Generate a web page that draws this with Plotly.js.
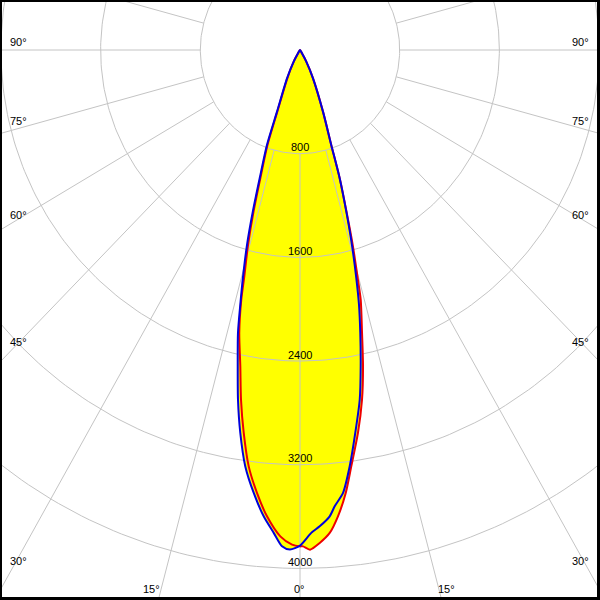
<!DOCTYPE html>
<html>
<head>
<meta charset="utf-8">
<script src="https://cdn.plot.ly/plotly-3.0.1.min.js"></script>
<style>html,body{margin:0;padding:0;background:#fff;}#chart{width:600px;height:600px;}</style>
</head>
<body>
<div id="chart"></div>
<script>
// ---- data ----
// gamma angles in degrees (0 = straight down, negative = left), intensities in cd
const blueAngles = [-90, -31.5, -29.3, -25.5, -21.2, -19.9, -18.1, -16.9, -15.8, -14.6, -13.7, -12.85, -11.57, -10.45, -9.22, -7.78, -6.2, -4.63, -3.24, -2.16, -1.2, 0, 1.39, 2.46, 3.79, 4.52, 5.77, 7.08, 8.55, 10.07, 11.28, 12.5, 13.54, 14.4, 15.5, 16.6, 17.85, 18.9, 21.2, 25.55, 29.3, 31.5, 90];
const blueValues = [0, 30, 103, 242, 510, 779, 1041, 1303, 1562, 1819, 2024, 2238, 2492, 2744, 2992, 3243, 3438, 3610, 3732, 3832, 3855, 3824, 3727, 3679, 3606, 3532, 3435, 3237, 2986, 2741, 2490, 2235, 2022, 1817, 1560, 1301, 1039, 774, 510, 242, 103, 30, 0];

const redAngles = [-90, -31.5, -29.3, -25.0, -20.96, -19.6, -17.85, -16.66, -15.5, -14.3, -13.74, -12.59, -11.1, -9.95, -8.7, -7.3, -5.77, -4.21, -2.41, -0.96, 0, 0.36, 1.2, 2.38, 3.66, 4.84, 6.13, 7.3, 8.96, 10.45, 11.7, 12.85, 14.19, 14.74, 15.71, 16.66, 17.85, 18.9, 21.2, 25.55, 29.3, 31.5, 90];
const redValues = [0, 30, 103, 241, 509, 778, 1039, 1301, 1560, 1817, 1984, 2236, 2488, 2740, 2987, 3239, 3435, 3608, 3756, 3817, 3830, 3830, 3856, 3807, 3734, 3611, 3438, 3239, 2989, 2744, 2494, 2238, 1988, 1820, 1562, 1301, 1039, 774, 510, 242, 103, 30, 0];

const ringValues = [800, 1600, 2400, 3200, 4000];
const ringLabels = ['800', '1600', '2400', '3200', '4000'];
const spokeAngles = [0, 15, 30, 45, 60, 75, 90, 105, 120, 135, 150, 165, 180, 195, 210, 225, 240, 255, 270, 285, 300, 315, 330, 345];
const angleLabels = ['90°', '75°', '60°', '45°', '30°', '15°', '0°', '15°', '30°', '45°', '60°', '75°', '90°'];

// ---- layout settings ----
const W = 600, H = 600;
const SX = 0.1246, SY = 0.1296;   // px per cd horizontally / vertically
const CX = 300, CY = 50;          // pole position in px
const labelPos = [ // [px x, px y, xanchor]
  [9, 41.5, 'left'], [9, 121, 'left'], [9, 215, 'left'], [9, 341.7, 'left'], [9, 560.5, 'left'],
  [151.7, 588.7, 'center'], [299.7, 588.5, 'center'], [446.2, 588.7, 'center'],
  [589.5, 560.5, 'right'], [589.5, 341.7, 'right'], [589.5, 215, 'right'], [589.5, 121, 'right'], [589.5, 41.5, 'right']
];

const rad = d => d * Math.PI / 180;
function toXY(angles, vals) {
  return {
    x: angles.map((a, i) => vals[i] * Math.sin(rad(a))),
    y: angles.map((a, i) => -vals[i] * Math.cos(rad(a)))
  };
}
const blue = toXY(blueAngles, blueValues);
const red = toXY(redAngles, redValues);

// grid rings
const gx = [], gy = [];
ringValues.forEach(r => {
  for (let a = 0; a <= 360; a += 1) { gx.push(r * Math.sin(rad(a))); gy.push(-r * Math.cos(rad(a))); }
  gx.push(null); gy.push(null);
});
// spokes from first ring outward
const rIn = ringValues[0], rOut = 9000;
spokeAngles.forEach(a => {
  gx.push(rIn * Math.sin(rad(a)), rOut * Math.sin(rad(a)), null);
  gy.push(-rIn * Math.cos(rad(a)), -rOut * Math.cos(rad(a)), null);
});

const SM = 0.7;
const traces = [
  {x: red.x, y: red.y, mode: 'lines', fill: 'toself', fillcolor: '#ffff00', line: {width: 0, color: 'rgba(0,0,0,0)', shape: 'spline', smoothing: SM}, hoverinfo: 'skip'},
  {x: blue.x, y: blue.y, mode: 'lines', fill: 'toself', fillcolor: '#ffff00', line: {width: 0, color: 'rgba(0,0,0,0)', shape: 'spline', smoothing: SM}, hoverinfo: 'skip'},
  {x: gx, y: gy, mode: 'lines', line: {color: '#c4c4c4', width: 1}, hoverinfo: 'skip', connectgaps: false},
  {x: red.x, y: red.y, mode: 'lines', line: {color: '#ee0000', width: 2, shape: 'spline', smoothing: SM}, hoverinfo: 'skip'},
  {x: blue.x, y: blue.y, mode: 'lines', line: {color: '#0000dd', width: 2, shape: 'spline', smoothing: SM}, hoverinfo: 'skip'}
];

const annotations = [];
ringValues.forEach((r, i) => annotations.push({
  x: 0, y: -r, xref: 'x', yref: 'y', text: ringLabels[i], showarrow: false,
  xanchor: 'center', yanchor: 'middle', yshift: 6.5,
  font: {family: 'Liberation Sans, Arial, sans-serif', size: 11, color: '#000'}
}));
angleLabels.forEach((t, i) => {
  const p = labelPos[i];
  annotations.push({
    x: p[0] / W, y: 1 - p[1] / H, xref: 'paper', yref: 'paper', text: t, showarrow: false,
    xanchor: p[2], yanchor: 'middle', borderpad: 0,
    font: {family: 'Liberation Sans, Arial, sans-serif', size: 11, color: '#000'}
  });
});

const shapes = [
  {type: 'rect', xref: 'paper', yref: 'paper', x0: 0, x1: 1, y0: 1 - 2 / H, y1: 1, fillcolor: '#000', line: {width: 0}, layer: 'above'},
  {type: 'rect', xref: 'paper', yref: 'paper', x0: 0, x1: 2 / W, y0: 0, y1: 1, fillcolor: '#000', line: {width: 0}, layer: 'above'},
  {type: 'rect', xref: 'paper', yref: 'paper', x0: 1 - 3 / W, x1: 1, y0: 0, y1: 1, fillcolor: '#000', line: {width: 0}, layer: 'above'},
  {type: 'rect', xref: 'paper', yref: 'paper', x0: 0, x1: 1, y0: 0, y1: 3 / H, fillcolor: '#000', line: {width: 0}, layer: 'above'}
];

const layout = {
  width: W, height: H,
  margin: {l: 0, r: 0, t: 0, b: 0, pad: 0},
  paper_bgcolor: '#fff', plot_bgcolor: '#fff',
  showlegend: false,
  xaxis: {range: [-CX / SX, (W - CX) / SX], visible: false, fixedrange: true},
  yaxis: {range: [-(H - CY) / SY, CY / SY], visible: false, fixedrange: true},
  annotations: annotations,
  shapes: shapes
};

Plotly.newPlot('chart', traces, layout, {displayModeBar: false, staticPlot: true});
</script>
</body>
</html>
